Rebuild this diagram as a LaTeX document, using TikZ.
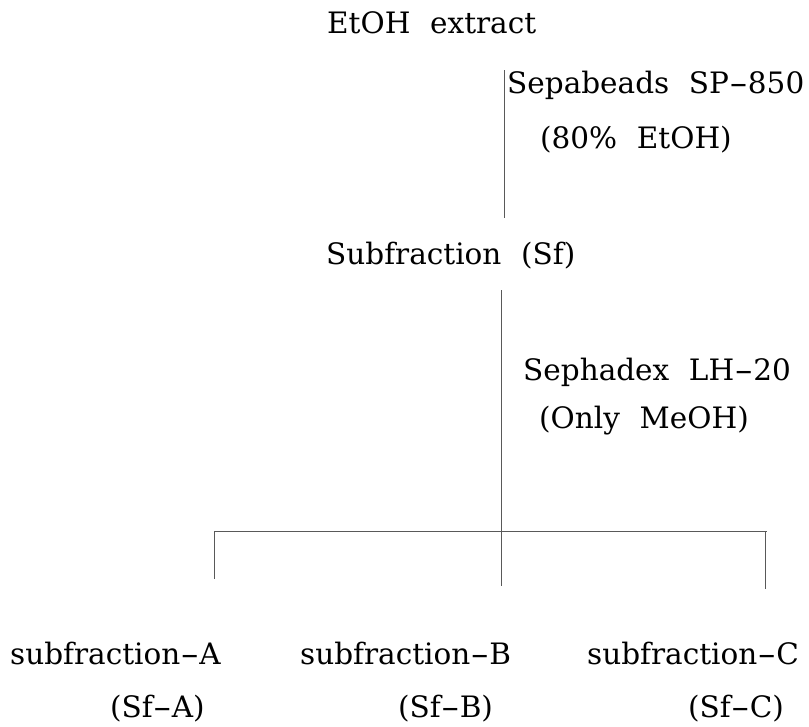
\documentclass[tikz,border=0pt]{standalone}
\usepackage{fontspec}
\setmainfont[WordSpace=2.1]{DejaVu Serif}
\newcommand\lhy{\scalebox{1.9}[1]{-}}
\begin{document}
\begin{tikzpicture}[x=1pt,y=-1pt,
  lbl/.style={anchor=base west,inner sep=0pt,font=\fontsize{29.5}{34}\selectfont},
  conn/.style={draw=black!65,line width=1pt}]
\useasboundingbox (0,0) rectangle (809,726);
% texts
\node[lbl] (etoh) at (327,33) {EtOH extract};
\node[lbl] (sepa) at (507,93) {Sepabeads SP\lhy850};
\node[lbl] (eight) at (540,148) {(80\% EtOH)};
\node[lbl] (sf) at (326,264) {Subfraction (Sf)};
\node[lbl] (seph) at (523,380) {Sephadex LH\lhy20};
\node[lbl] (meoh) at (539,428) {(Only MeOH)};
\node[lbl] (sa) at (10,664) {subfraction\lhy A};
\node[lbl] (sb) at (300,664) {subfraction\lhy B};
\node[lbl] (sc) at (587,664) {subfraction\lhy C};
\node[lbl] (sfa) at (110,717) {(Sf\lhy A)};
\node[lbl] (sfb) at (398,717) {(Sf\lhy B)};
\node[lbl] (sfc) at (688,717) {(Sf\lhy C)};
% connector end points
\coordinate (l1t) at (504,70);
\coordinate (l1b) at (504,218);
\coordinate (l2t) at (501,290);
\coordinate (l2b) at (501,586);
\coordinate (hl) at (214,531);
\coordinate (hr) at (767,531);
\coordinate (ta) at (214,579);
\coordinate (tc) at (765,589);
\coordinate (tcu) at (765,531);
% connectors
\draw[conn] (l1t) -- (l1b);
\draw[conn] (l2t) -- (l2b);
\draw[conn] (hl) -- (hr);
\draw[conn] (hl) -- (ta);
\draw[conn] (tcu) -- (tc);
\end{tikzpicture}
\end{document}
